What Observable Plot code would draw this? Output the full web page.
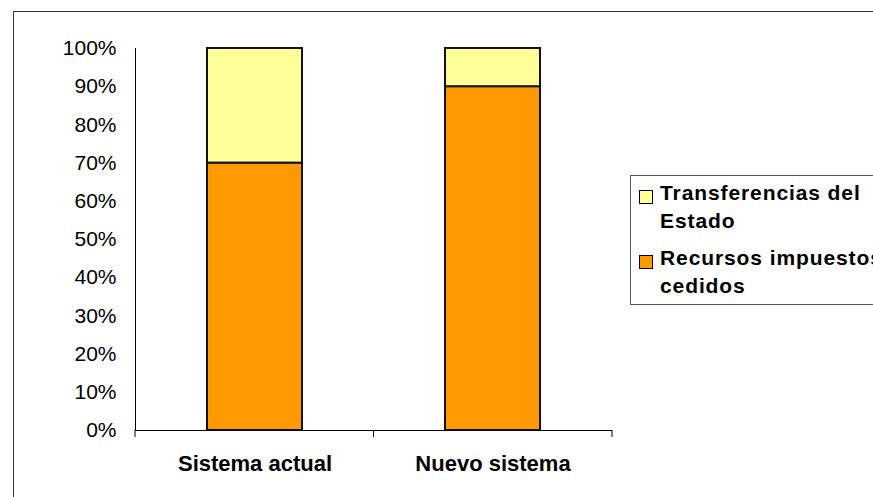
<!DOCTYPE html>
<html><head><meta charset="utf-8">
<script src="https://cdn.jsdelivr.net/npm/d3@7"></script>
<script src="https://cdn.jsdelivr.net/npm/@observablehq/plot@0.6"></script>
<style>
body{margin:0;background:#fff;overflow:hidden;font-family:"Liberation Sans",Arial,sans-serif;}
#wrap{position:relative;width:873px;height:497px;overflow:hidden;background:#fff}
#border{position:absolute;left:13px;top:11px;width:900px;height:600px;border:1.5px solid #333;box-sizing:border-box;pointer-events:none}
#legend{position:absolute;left:630px;top:175px;width:300px;height:130px;border:1.5px solid #555;box-sizing:border-box;background:#fff;padding:3px 0 0 8px}
.item{display:flex;align-items:flex-start;margin-bottom:9px}
.sw{width:12px;height:12px;border:1px solid #000;margin-top:11px;margin-right:7px;flex:none}
.lbl{font-weight:bold;font-size:21px;line-height:28px;letter-spacing:0.9px;color:#000;width:260px;white-space:nowrap}
#chart svg{position:absolute;left:0;top:0}
</style></head>
<body>
<div id="wrap"><div id="chart"></div><div id="border"></div><div id="legend"></div></div>
<script>
const categories = ["Sistema actual", "Nuevo sistema"];
const seriesNames = ["Recursos impuestos cedidos", "Transferencias del Estado"];
const legendLines = [["Transferencias del", "Estado"], ["Recursos impuestos", "cedidos"]];
const recursos = [70, 90];
const transferencias = [30, 10];
const yTicks = [0, 10, 20, 30, 40, 50, 60, 70, 80, 90, 100];
const colors = ["#FF9900", "#FFFF99"];

const data = [];
categories.forEach((c, i) => {
  data.push({cat: c, serie: seriesNames[0], value: recursos[i]});
  data.push({cat: c, serie: seriesNames[1], value: transferencias[i]});
});

const W = 873, H = 497, ML = 135, MR = 261, MT = 48, MB = 67;

function boundaryTicks(...args) {
  const dims = args.find(a => a && a.marginLeft !== undefined) || {width: W, marginLeft: ML, marginRight: MR, height: H, marginBottom: MB};
  const n = categories.length;
  const x0 = dims.marginLeft, x1 = dims.width - dims.marginRight;
  const y = dims.height - dims.marginBottom;
  const g = d3.create("svg:g");
  d3.range(n + 1).forEach(i => {
    const xx = x0 + (x1 - x0) * i / n;
    g.append("line").attr("x1", xx).attr("x2", xx).attr("y1", y).attr("y2", y + 7)
      .attr("stroke", "#000").attr("stroke-width", 1);
  });
  return g.node();
}

const plot = Plot.plot({
  width: W, height: H,
  marginLeft: ML, marginRight: MR, marginTop: MT, marginBottom: MB,
  style: {fontFamily: "'Liberation Sans', Arial, sans-serif", background: "transparent"},
  x: {domain: categories, paddingInner: 0.6, paddingOuter: 0.3, label: null},
  y: {domain: [0, 100], label: null},
  color: {domain: seriesNames, range: colors},
  marks: [
    Plot.barY(data, {x: "cat", y: "value", fill: "serie", stroke: "#111", strokeWidth: 2}),
    Plot.frame({anchor: "left", stroke: "#000", strokeWidth: 1}),
    Plot.ruleY([0], {stroke: "#000", strokeWidth: 1}),
    boundaryTicks,
    Plot.axisY({ticks: yTicks, tickSize: 0, tickPadding: 19, tickFormat: d => d + "%", fontSize: 21, label: null, fill: "#000", style: "letter-spacing:0.7px"}),
    Plot.axisX({tickSize: 0, tickPadding: 25, fontSize: 22, fontWeight: "bold", label: null, fill: "#000", style: "letter-spacing:0.5px"})
  ]
});
document.getElementById("chart").appendChild(plot);

const legend = document.getElementById("legend");
[1, 0].forEach((si, k) => {
  const item = document.createElement("div");
  item.className = "item";
  const sw = document.createElement("div");
  sw.className = "sw";
  sw.style.background = colors[si];
  const lbl = document.createElement("div");
  lbl.className = "lbl";
  lbl.innerHTML = legendLines[k].join("<br>");
  item.appendChild(sw); item.appendChild(lbl);
  legend.appendChild(item);
});
</script>
</body></html>
